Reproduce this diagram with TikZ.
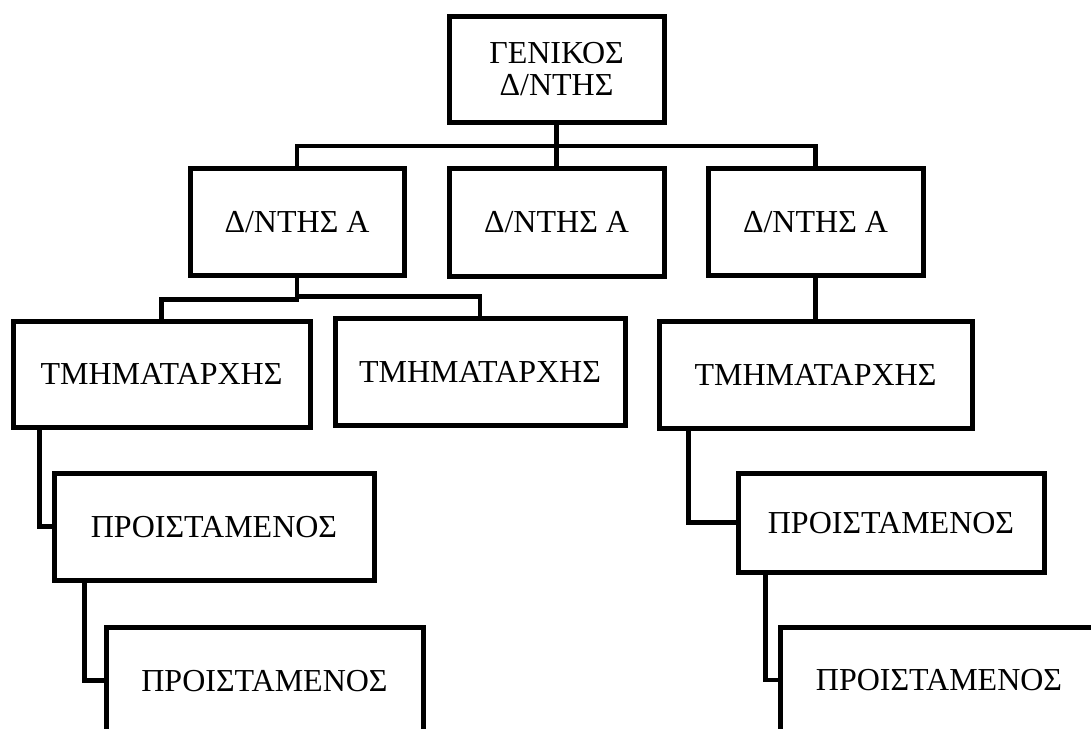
\documentclass[tikz,border=0pt]{standalone}
\usepackage{fontspec}
\setmainfont{Liberation Serif}
\begin{document}
\begin{tikzpicture}[x=1pt,y=-1pt,
  box/.style={draw=black,line width=5pt,rectangle,inner sep=0pt,
    font=\fontsize{32}{32}\selectfont,text height=21pt,text depth=0pt},
  link/.style={draw=black,line width=4.8pt}]
\useasboundingbox (0,0) rectangle (1091,728);
\fill[white] (0,0) rectangle (1091,728);
\clip (0,0) rectangle (1091,728);

% general director
\node[box,minimum width=215pt,minimum height=106pt,text height=,text depth=,align=center]
  (G) at (556.5,69) {ΓΕΝΙΚΟΣ\\Δ/ΝΤΗΣ};

% directors
\node[box,minimum width=214pt,minimum height=107pt] (D1) at (297,221.5) {Δ/ΝΤΗΣ Α};
\node[box,minimum width=215pt,minimum height=108pt] (D2) at (556.5,222) {Δ/ΝΤΗΣ Α};
\node[box,minimum width=215pt,minimum height=107pt] (D3) at (815.5,221.5) {Δ/ΝΤΗΣ Α};

% heads of department
\node[box,minimum width=297pt,minimum height=106pt] (T1) at (161.5,374) {ΤΜΗΜΑΤΑΡΧΗΣ};
\node[box,minimum width=290pt,minimum height=107pt] (T2) at (480,371.5) {ΤΜΗΜΑΤΑΡΧΗΣ};
\node[box,minimum width=313pt,minimum height=107pt] (T3) at (815.5,374.5) {ΤΜΗΜΑΤΑΡΧΗΣ};

% supervisors
\node[box,minimum width=320pt,minimum height=107pt] (P1) at (214,526.5) {ΠΡΟΙΣΤΑΜΕΝΟΣ};
\node[box,minimum width=317pt,minimum height=107pt] (P2) at (264.5,680.5) {ΠΡΟΙΣΤΑΜΕΝΟΣ};
\node[box,minimum width=306pt,minimum height=99pt]  (P3) at (891,522.5) {ΠΡΟΙΣΤΑΜΕΝΟΣ};
\node[box,minimum width=318pt,minimum height=106pt] (P4) at (939,680) {ΠΡΟΙΣΤΑΜΕΝΟΣ};

% connectors
\coordinate (bus1) at (556.5,146);
\draw[link] (G.south) -- (D2.north);
\draw[link] (D1.north) |- (bus1) -| (D3.north);
\draw[link] (D1.south) -- ++(0,22) -| (T1.north);
\draw[link] (D1.south) -- ++(0,19) -| (T2.north);
\draw[link] (D3.south) -- (T3.north);
\draw[link] ([xshift=29pt]T1.south west) |- (P1.west);
\draw[link] ([xshift=33pt]P1.south west) |- (P2.west);
\draw[link] ([xshift=32pt]T3.south west) |- (P3.west);
\draw[link] ([xshift=30pt]P3.south west) |- (P4.west);
\end{tikzpicture}
\end{document}
